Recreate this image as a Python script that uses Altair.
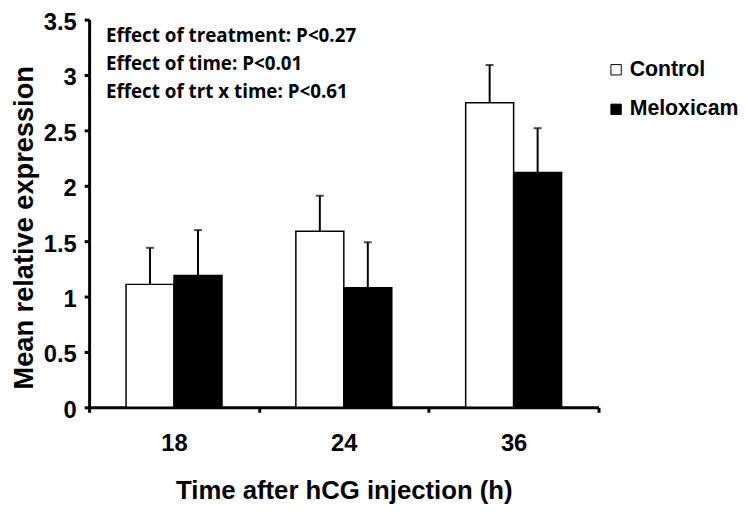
import altair as alt
import pandas as pd

times = ["18", "24", "36"]
groups = ["Control", "Meloxicam"]
control_mean = [1.11, 1.59, 2.75]
control_upper = [1.44, 1.91, 3.09]
meloxicam_mean = [1.19, 1.08, 2.12]
meloxicam_upper = [1.60, 1.49, 2.52]
y_ticks = [0, 0.5, 1, 1.5, 2, 2.5, 3, 3.5]
annotations = [
    "Effect of treatment: P<0.27",
    "Effect of time: P<0.01",
    "Effect of trt x time: P<0.61",
]

rows = []
for i, t in enumerate(times):
    rows.append(dict(time=t, group="Control", mean=control_mean[i], upper=control_upper[i]))
    rows.append(dict(time=t, group="Meloxicam", mean=meloxicam_mean[i], upper=meloxicam_upper[i]))
df = pd.DataFrame(rows)

FONT = "Liberation Sans"

x_enc = alt.X(
    "time:N",
    sort=times,
    scale=alt.Scale(paddingInner=0, paddingOuter=0),
    axis=alt.Axis(
        title="Time after hCG injection (h)",
        labelAngle=0,
        tickBand="extent",
        labelPadding=20,
        titlePadding=22,
        titleFontSize=26,
    ),
)
xoff_enc = alt.XOffset(
    "group:N", sort=groups, scale=alt.Scale(paddingInner=0, paddingOuter=0.77)
)
y_scale = alt.Scale(domain=[0, 3.5], nice=False, zero=True)
y_enc = alt.Y(
    "mean:Q",
    scale=y_scale,
    axis=alt.Axis(
        title="Mean relative expression",
        values=y_ticks,
        format="~g",
        labelPadding=8,
        labelOffset=3,
        titlePadding=5,
        titleFontSize=27.5,
        titleY=210,
    ),
)

base = alt.Chart(df)

bars = base.mark_bar(stroke="black", strokeWidth=1.5).encode(
    x=x_enc,
    xOffset=xoff_enc,
    y=y_enc,
    fill=alt.Fill(
        "group:N",
        sort=groups,
        scale=alt.Scale(domain=groups, range=["white", "black"]),
        legend=alt.Legend(
            title=None,
            orient="none",
            legendX=522,
            legendY=40,
            symbolType="square",
            symbolSize=110,
            symbolStrokeColor="black",
            symbolStrokeWidth=1,
            labelFont=FONT,
            labelFontWeight="bold",
            labelFontSize=21.5,
            labelColor="black",
            labelOffset=3,
            rowPadding=17,
        ),
    ),
)

err_rule = base.mark_rule(color="black", strokeWidth=2).encode(
    x=alt.X("time:N", sort=times),
    xOffset=alt.XOffset("group:N", sort=groups),
    y=alt.Y("mean:Q"),
    y2="upper:Q",
)

err_cap = base.mark_tick(color="black", thickness=2, size=8).encode(
    x=alt.X("time:N", sort=times),
    xOffset=alt.XOffset("group:N", sort=groups),
    y=alt.Y("upper:Q"),
)

notes = alt.Chart(alt.Data(values=[{}])).mark_text(
    text=annotations,
    align="left",
    baseline="alphabetic",
    font="Open Sans",
    fontWeight="bold",
    fontSize=19,
    lineHeight=28,
    color="black",
).encode(x=alt.value(17), y=alt.value(23))

chart = (
    alt.layer(bars, err_rule, err_cap, notes)
    .properties(
        width=515,
        height=392,
        autosize=alt.AutoSizeParams(type="none"),
        padding={"left": 82, "top": 9, "right": 142, "bottom": 95},
    )
    .configure_view(stroke=None)
    .configure_axis(
        grid=False,
        domainColor="black",
        domainWidth=3,
        tickColor="black",
        tickWidth=3,
        tickSize=5,
        labelFont=FONT,
        labelFontWeight="bold",
        labelFontSize=24,
        labelColor="black",
        titleFont=FONT,
        titleFontWeight="bold",
        titleFontSize=25,
        titleColor="black",
    )
)

chart.save("out.html", embed_options={"renderer": "svg", "actions": False})
